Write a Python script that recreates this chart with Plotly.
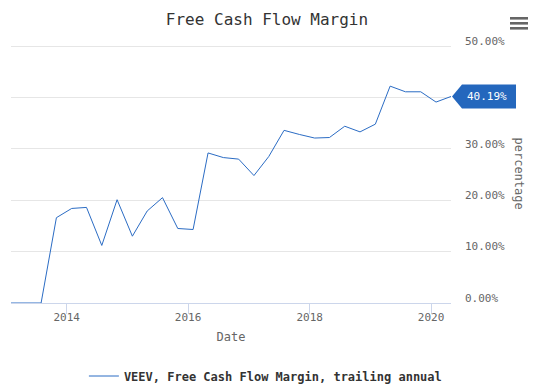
import plotly.graph_objects as go

dates = ["2013-01-31", "2013-04-30", "2013-07-31", "2013-10-31",
         "2014-01-31", "2014-04-30", "2014-07-31", "2014-10-31",
         "2015-01-31", "2015-04-30", "2015-07-31", "2015-10-31",
         "2016-01-31", "2016-04-30", "2016-07-31", "2016-10-31",
         "2017-01-31", "2017-04-30", "2017-07-31", "2017-10-31",
         "2018-01-31", "2018-04-30", "2018-07-31", "2018-10-31",
         "2019-01-31", "2019-04-30", "2019-07-31", "2019-10-31",
         "2020-01-31", "2020-04-30"]
margin_pct = [0.0, 0.0, 0.0, 16.6,
              18.4, 18.6, 11.2, 20.1,
              13.0, 17.9, 20.5, 14.5,
              14.3, 29.2, 28.3, 28.0,
              24.8, 28.5, 33.6, 32.8,
              32.1, 32.2, 34.4, 33.3,
              34.8, 42.2, 41.1, 41.1,
              39.1, 40.19]
y_ticks = [0, 10, 20, 30, 40, 50]
y_ticklabels = ["0.00%", "10.00%", "20.00%", "30.00%", "40.00%", "50.00%"]
x_ticks = ["2014-01-01", "2016-01-01", "2018-01-01", "2020-01-01"]
x_ticklabels = ["2014", "2016", "2018", "2020"]

LINE = "#2b6cc4"
CALLOUT = "#2467bd"
MONO = "DejaVu Sans Mono, Liberation Mono, monospace"

fig = go.Figure()
fig.add_trace(go.Scatter(
    x=dates, y=margin_pct, mode="lines",
    line=dict(color=LINE, width=1),
    name="VEEV, Free Cash Flow Margin, trailing annual",
))

last_val = margin_pct[-1]
shapes = [
    dict(type="path", xref="paper", yref="y", xanchor=1, yanchor=last_val,
         xsizemode="pixel", ysizemode="pixel",
         path="M 1 0 L 11 12 L 65 12 L 65 -12 L 11 -12 Z",
         fillcolor=CALLOUT, line=dict(width=0)),
]
for c in (25.7, 20.7, 15.7):
    shapes.append(dict(type="rect", xref="paper", yref="paper", xanchor=1, yanchor=1,
                       xsizemode="pixel", ysizemode="pixel",
                       x0=59, x1=77, y0=c - 1.3, y1=c + 1.3,
                       fillcolor="#666666", line=dict(width=0)))

fig.update_layout(
    width=534, height=387,
    margin=dict(l=11, r=83, t=44, b=84, autoexpand=False),
    paper_bgcolor="white", plot_bgcolor="white",
    font=dict(family=MONO, color="#666666"),
    title=dict(text="Free Cash Flow Margin", x=0.5, xref="container", xanchor="center",
               y=1 - 19 / 387, yref="container", yanchor="middle",
               font=dict(size=16, color="#333333", family=MONO)),
    showlegend=True,
    legend=dict(orientation="h", xref="container", yref="container",
                x=0.497, xanchor="center", y=1 - 376 / 387, yanchor="middle",
                itemwidth=30,
                font=dict(size=12, color="#333333", family=MONO, weight="bold")),
    xaxis=dict(type="date", range=[dates[0], dates[-1]],
               tickvals=x_ticks, ticktext=x_ticklabels,
               showgrid=False, showline=False, zeroline=False,
               ticks="outside", ticklen=10, tickcolor="#ccd6eb",
               ticklabelstandoff=-6,
               tickfont=dict(size=11, color="#666666"),
               title=dict(text="Date", font=dict(size=12, color="#666666"), standoff=9)),
    yaxis=dict(side="right", range=[0, 50.4], tickvals=y_ticks, ticktext=y_ticklabels,
               showgrid=True, gridcolor="#e6e6e6", gridwidth=1,
               zeroline=True, zerolinecolor="#ccd6eb", zerolinewidth=1,
               showline=False, ticks="", ticklabelposition="outside",
               ticklabelshift=-5, ticklabelstandoff=13,
               tickfont=dict(size=11, color="#666666")),
    shapes=shapes,
    annotations=[
        dict(text="percentage", textangle=90, xref="paper", yref="paper",
             x=1, y=0.5, xshift=68, xanchor="center", yanchor="middle", showarrow=False,
             font=dict(size=12, color="#666666", family=MONO)),
        dict(text=f"{last_val:.2f}%", xref="paper", yref="y", x=1, y=last_val,
             xshift=36, xanchor="center", yanchor="middle", showarrow=False,
             font=dict(size=11, color="white", family=MONO)),
    ],
)

fig.write_html("out.html", config={"displayModeBar": False},
               post_script="document.body.style.margin='0';")
